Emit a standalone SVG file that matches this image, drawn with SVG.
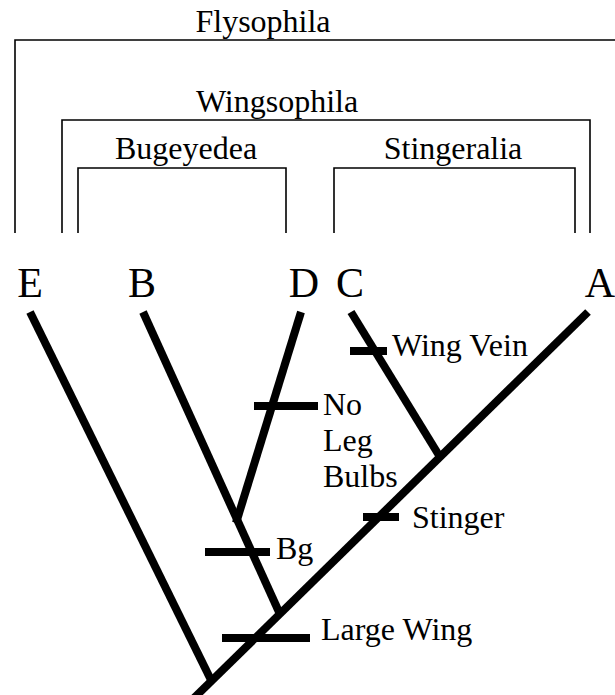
<svg xmlns="http://www.w3.org/2000/svg" width="615" height="695" viewBox="0 0 615 695">
<style>
.br{fill:none;stroke:#000;stroke-width:1.6}
.bl{fill:none;stroke:#000;stroke-width:8;stroke-linecap:butt}
text{font-family:'Liberation Serif','Times New Roman',serif;fill:#000}
.t{font-size:32px}
.lf{font-size:42px}
</style>
<rect width="615" height="695" fill="#fff"/>
<g id="clade-flysophila">
<path class="br" d="M15,233 V40 H620"/>
<text class="t" x="263" y="32" text-anchor="middle">Flysophila</text>
</g>
<g id="clade-wingsophila">
<path class="br" d="M62,233 V120 H590 V233"/>
<text class="t" x="277" y="112" text-anchor="middle">Wingsophila</text>
</g>
<g id="clade-bugeyedea">
<path class="br" d="M78,233 V168 H286 V233"/>
<text class="t" x="186" y="159" text-anchor="middle">Bugeyedea</text>
</g>
<g id="clade-stingeralia">
<path class="br" d="M334,233 V168 H575 V233"/>
<text class="t" x="453" y="159" text-anchor="middle">Stingeralia</text>
</g>
<g id="taxon-E"><text class="lf" x="30" y="297" text-anchor="middle">E</text></g>
<g id="taxon-B"><text class="lf" x="142" y="297" text-anchor="middle">B</text></g>
<g id="taxon-D"><text class="lf" x="304" y="297" text-anchor="middle">D</text></g>
<g id="taxon-C"><text class="lf" x="350" y="297" text-anchor="middle">C</text></g>
<g id="taxon-A"><text class="lf" x="600" y="297" text-anchor="middle">A</text></g>
<g id="branches">
<line class="bl" x1="588" y1="312" x2="192" y2="700"/>
<line class="bl" x1="30" y1="312" x2="211" y2="680"/>
<line class="bl" x1="143" y1="312" x2="279" y2="612"/>
<line class="bl" x1="301" y1="312" x2="236" y2="523"/>
<line class="bl" x1="351" y1="312" x2="440" y2="457"/>
</g>
<g id="char-wingvein">
<line class="bl" x1="350" y1="351" x2="387" y2="351"/>
<text class="t" x="392" y="356">Wing Vein</text>
</g>
<g id="char-nolegbulbs">
<line class="bl" x1="254" y1="406" x2="318" y2="406"/>
<text class="t" x="323" y="415">No</text>
<text class="t" x="323" y="451">Leg</text>
<text class="t" x="323" y="487">Bulbs</text>
</g>
<g id="char-stinger">
<line class="bl" x1="363" y1="517" x2="399" y2="517"/>
<text class="t" x="412" y="528">Stinger</text>
</g>
<g id="char-bg">
<line class="bl" x1="205" y1="552" x2="270" y2="552"/>
<text class="t" x="276" y="559">Bg</text>
</g>
<g id="char-largewing">
<line class="bl" x1="222" y1="638" x2="310" y2="638"/>
<text class="t" x="321" y="640">Large Wing</text>
</g>
</svg>
